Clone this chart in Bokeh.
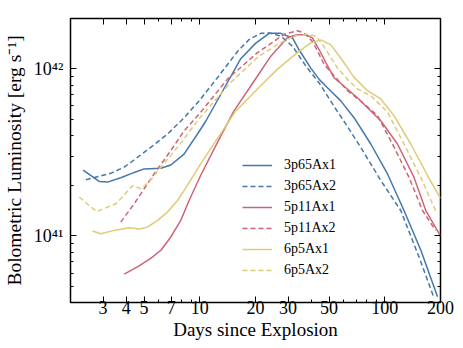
from bokeh.plotting import figure
from bokeh.models import LogAxis, FixedTicker, Legend, LegendItem, Range1d
from bokeh.embed import file_html
from bokeh.resources import INLINE

FONT = "Liberation Serif"

# ---------------- data (days, erg/s) ----------------
t_3p65Ax1 = [2.34, 2.86, 3.17, 3.74, 4.42, 5.0, 6.16, 6.97, 8.22, 10.1, 10.8, 13.5, 16.65, 20.0,
             23.7, 27.4, 29.8, 31.7, 34.4, 39.8, 44.2, 49.0, 57.8, 68.2, 84.0, 103.4, 127.0,
             156.6, 192.8]
L_3p65Ax1 = [2.48e41, 2.12e41, 2.10e41, 2.23e41, 2.40e41, 2.52e41, 2.54e41, 2.66e41, 3.09e41,
             4.35e41, 4.89e41, 7.6e41, 1.15e42, 1.42e42, 1.63e42, 1.63e42, 1.57e42, 1.53e42,
             1.30e42, 1.01e42, 8.65e41, 7.71e41, 6.43e41, 5.10e41, 3.55e41, 2.35e41, 1.42e41,
             8.22e40, 4.33e40]

t_3p65Ax2 = [2.42, 3.30, 3.90, 4.60, 5.43, 6.69, 8.23, 9.91, 12.5, 15.99, 18.5, 21.4, 23.7,
             27.4, 31.8, 37.4, 44.2, 54.3, 59.0, 74.1, 95.1, 122.0, 153.0, 184.8]
L_3p65Ax2 = [2.17e41, 2.37e41, 2.58e41, 2.95e41, 3.39e41, 4.07e41, 5.10e41, 6.43e41, 8.9e41,
             1.27e42, 1.50e42, 1.63e42, 1.64e42, 1.57e42, 1.36e42, 1.04e42, 8.22e41, 5.75e41,
             5.02e41, 3.39e41, 2.15e41, 1.42e41, 7.50e40, 4.24e40]

t_5p11Ax1 = [3.90, 4.60, 5.43, 6.16, 6.97, 7.89, 8.75, 10.1, 12.5, 15.3, 18.9, 24.2, 29.8, 33.7,
             37.4, 40.6, 44.2, 48.0, 53.2, 60.0, 71.1, 84.0, 95.1, 117.1, 143.9, 166.5, 200.0]
L_5p11Ax1 = [5.92e40, 6.54e40, 7.34e40, 8.22e40, 9.86e40, 1.24e41, 1.63e41, 2.30e41, 3.66e41,
             5.60e41, 7.92e41, 1.19e42, 1.54e42, 1.60e42, 1.60e42, 1.53e42, 1.30e42, 1.09e42,
             8.84e41, 7.89e41, 6.71e41, 5.60e41, 4.89e41, 3.55e41, 2.24e41, 1.42e41, 1.0e41]

t_5p11Ax2 = [3.74, 4.42, 5.66, 6.97, 8.22, 9.91, 14.1, 20.5, 28.6, 33.7, 36.5, 40.6, 44.2, 47.0,
             53.2, 62.8, 77.3, 91.3, 110.0, 135.3, 159.9, 188.0]
L_5p11Ax2 = [1.21e41, 1.56e41, 2.35e41, 3.24e41, 4.26e41, 5.35e41, 8.68e41, 1.25e42, 1.61e42,
             1.69e42, 1.64e42, 1.46e42, 1.22e42, 1.06e42, 9.08e41, 7.40e41, 6.16e41, 5.25e41,
             3.55e41, 2.24e41, 1.42e41, 1.08e41]

t_6p5Ax1 = [2.63, 2.92, 3.44, 4.15, 4.70, 5.21, 5.91, 6.69, 7.58, 8.22, 10.1, 15.65, 20.5, 26.3,
            33.7, 39.8, 45.1, 51.1, 57.8, 68.2, 80.6, 95.1, 112.0, 138.2, 170.2, 200.0]
L_6p5Ax1 = [1.07e41, 1.03e41, 1.08e41, 1.12e41, 1.10e41, 1.13e41, 1.24e41, 1.39e41, 1.63e41,
            1.87e41, 2.70e41, 5.60e41, 7.57e41, 9.96e41, 1.25e42, 1.43e42, 1.49e42, 1.39e42,
            1.16e42, 8.89e41, 7.40e41, 6.60e41, 5.25e41, 3.55e41, 2.30e41, 1.68e41]

t_6p5Ax2 = [2.23, 2.58, 2.78, 3.04, 3.52, 3.74, 4.33, 4.80, 5.32, 6.16, 7.58, 9.72, 14.7, 20.5,
            26.3, 32.3, 38.2, 42.4, 46.0, 51.1, 55.5, 62.8, 71.2, 84.0, 103.4, 127.0, 156.5, 190.0]
L_6p5Ax2 = [1.71e41, 1.49e41, 1.40e41, 1.46e41, 1.56e41, 1.67e41, 2.00e41, 1.92e41, 2.10e41,
            2.58e41, 3.39e41, 4.89e41, 8.30e41, 1.17e42, 1.40e42, 1.57e42, 1.61e42, 1.57e42,
            1.40e42, 1.17e42, 1.01e42, 8.65e41, 7.57e41, 6.90e41, 5.52e41, 3.55e41, 2.24e41,
            1.38e41]

series_names = ["3p65Ax1", "3p65Ax2", "5p11Ax1", "5p11Ax2", "6p5Ax1", "6p5Ax2"]
series_t = [t_3p65Ax1, t_3p65Ax2, t_5p11Ax1, t_5p11Ax2, t_6p5Ax1, t_6p5Ax2]
series_L = [L_3p65Ax1, L_3p65Ax2, L_5p11Ax1, L_5p11Ax2, L_6p5Ax1, L_6p5Ax2]
series_colors = ["#4477AA", "#4477AA", "#CC6677", "#CC6677", "#DDCC77", "#DDCC77"]
series_dash = ["solid", "5 3", "solid", "5 3", "solid", "5 3"]

x_ticks = [3, 4, 5, 7, 10, 20, 30, 50, 100, 200]
x_tick_labels = ["3", "4", "5", "7", "10", "20", "30", "50", "100", "200"]
x_minor = [2, 6, 8, 9, 40, 60, 70, 80, 90]
y_ticks = [1e41, 1e42]
y_tick_labels = ["10⁴¹", "10⁴²"]
y_minor = [4e40, 5e40, 6e40, 7e40, 8e40, 9e40, 2e41, 3e41, 4e41, 5e41, 6e41, 7e41, 8e41,
           9e41, 2e42]

# ---------------- figure ----------------
p = figure(frame_width=370, frame_height=284, x_axis_type="log", y_axis_type="log",
           x_range=Range1d(2, 200), y_range=Range1d(4e40, 2e42),
           output_backend="svg", toolbar_location=None,
           min_border_left=62, min_border_right=15, min_border_top=18, min_border_bottom=30,
           background_fill_color="white", border_fill_color="white")
p.grid.visible = False
p.outline_line_color = "black"
p.outline_line_width = 1.5
p.outline_line_alpha = 1.0

xt = FixedTicker(ticks=x_ticks, minor_ticks=x_minor)
yt = FixedTicker(ticks=y_ticks, minor_ticks=y_minor)


def style(ax, show):
    ax.axis_line_color = None
    ax.major_tick_in = 6
    ax.major_tick_out = 0
    ax.minor_tick_in = 3
    ax.minor_tick_out = 0
    ax.major_tick_line_color = "black"
    ax.minor_tick_line_color = "black"
    ax.major_tick_line_width = 1
    ax.minor_tick_line_width = 1
    ax.major_label_text_font = FONT
    ax.major_label_text_font_size = "18px"
    ax.major_label_text_color = "black"
    ax.axis_label_text_font = FONT
    ax.axis_label_text_font_size = "19px"
    ax.axis_label_text_font_style = "normal"
    ax.axis_label_text_color = "black"
    if not show:
        ax.major_label_text_font_size = "0px"
        ax.major_label_standoff = 0


xa = p.xaxis[0]
xa.ticker = xt
xa.major_label_overrides = {t: s for t, s in zip(x_ticks, x_tick_labels)}
style(xa, True)
xa.major_label_standoff = -2
xa.axis_label = "Days since Explosion"
xa.axis_label_standoff = 2

ya = p.yaxis[0]
ya.ticker = yt
ya.major_label_overrides = {t: s for t, s in zip(y_ticks, y_tick_labels)}
style(ya, True)
ya.major_label_standoff = 7
ya.axis_label = "Bolometric Luminosity [erg s⁻¹]"
ya.axis_label_standoff = 6
ya.axis_label_text_font_size = "19.5px"

top = LogAxis(ticker=xt, major_label_overrides={t: "" for t in x_ticks})
style(top, False)
p.add_layout(top, "above")
right = LogAxis(ticker=yt, major_label_overrides={t: "" for t in y_ticks})
style(right, False)
p.add_layout(right, "right")

items = []
for name, t, L, c, d in zip(series_names, series_t, series_L, series_colors, series_dash):
    r = p.line(t, L, line_color=c, line_width=1.5, line_dash=d)
    items.append(LegendItem(label=name, renderers=[r]))

legend = Legend(items=items, location=(172, 22))
legend.label_text_font = FONT
legend.label_text_font_size = "14px"
legend.label_text_color = "black"
legend.label_text_baseline = "middle"
legend.glyph_width = 30
legend.glyph_height = 20
legend.label_height = 20
legend.label_standoff = 12
legend.spacing = 1
legend.padding = 0
legend.margin = 0
legend.border_line_alpha = 0
legend.background_fill_alpha = 0
p.add_layout(legend)

open("out.html", "w").write(file_html(p, INLINE))
